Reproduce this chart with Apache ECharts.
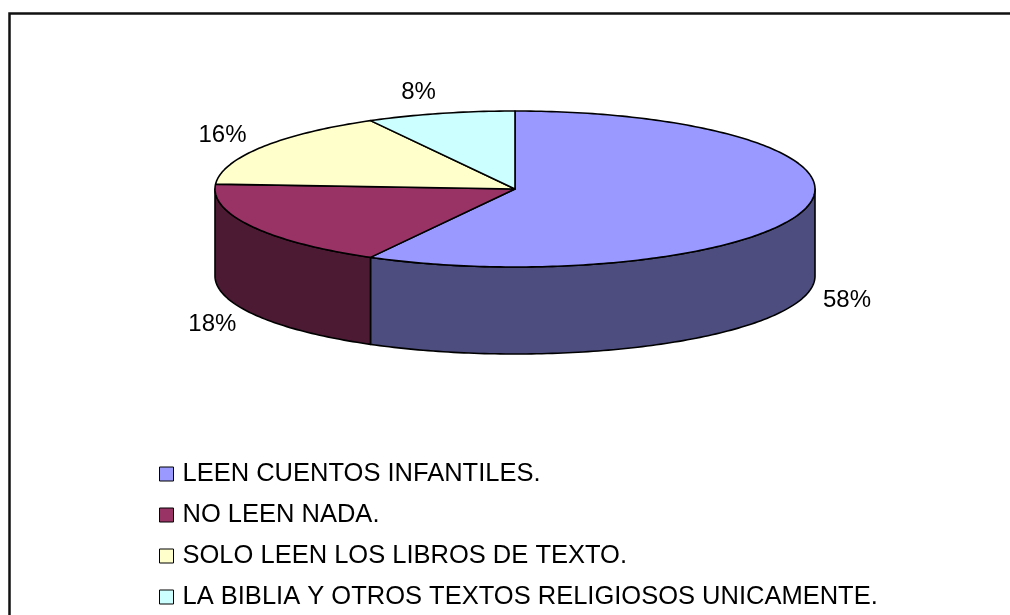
<!DOCTYPE html>
<html>
<head>
<meta charset="utf-8">
<script src="https://cdn.jsdelivr.net/npm/echarts@6/dist/echarts.min.js"></script>
<style>
  html, body { margin: 0; padding: 0; background: #fff; }
  #chart { width: 1010px; height: 615px; }
</style>
</head>
<body>
<div id="chart"></div>
<script>
// ---- data ----
const categories = [
  'LEEN CUENTOS INFANTILES.',
  'NO LEEN NADA.',
  'SOLO LEEN LOS LIBROS DE TEXTO.',
  'LA BIBLIA Y OTROS TEXTOS RELIGIOSOS UNICAMENTE.'
];
const values = [58, 18, 16, 8];
const topColors = ['#9999FF', '#993366', '#FFFFCC', '#CCFFFF'];
const sideColors = ['#4D4D80', '#4C1A33', '#80805F', '#608080'];

// ---- layout (3D pie geometry) ----
const CX = 515, CY = 189, RX = 300, RY = 78, DEPTH = 87;
const FONT = '"Liberation Sans", Arial, sans-serif';
const total = values.reduce((a, b) => a + b, 0);

function pt(t, dy) {
  return [CX + RX * Math.sin(t), CY - RY * Math.cos(t) + dy];
}
function arc(a0, a1, dy) {
  const n = Math.max(2, Math.ceil(Math.abs(a1 - a0) / (Math.PI / 180)));
  const pts = [];
  for (let k = 0; k <= n; k++) pts.push(pt(a0 + (a1 - a0) * k / n, dy));
  return pts;
}

function renderSlice(i, api) {
  const v = api.value(0);
  let before = 0;
  for (let j = 0; j < i; j++) before += values[j];
  const a0 = before / total * Math.PI * 2;
  const a1 = a0 + v / total * Math.PI * 2;
  const children = [];
  // visible side wall (front half: PI/2 .. 3PI/2)
  const s = Math.max(a0, Math.PI / 2), e = Math.min(a1, Math.PI * 1.5);
  if (s < e) {
    const pts = arc(s, e, 0).concat(arc(e, s, DEPTH));
    children.push({
      type: 'polygon', shape: { points: pts },
      style: { fill: sideColors[i], stroke: '#000', lineWidth: 1.6, lineJoin: 'round' }
    });
  }
  // top face
  const topPts = [[CX, CY]].concat(arc(a0, a1, 0));
  children.push({
    type: 'polygon', shape: { points: topPts },
    style: { fill: topColors[i], stroke: '#000', lineWidth: 1.6, lineJoin: 'round' }
  });
  // label
  const mid = (a0 + a1) / 2;
  const front = Math.cos(mid) < 0;
  const lx = CX + (RX + 18) * Math.sin(mid);
  const ly = CY - (RY + 22) * Math.cos(mid) + (front ? DEPTH : 0);
  children.push({
    type: 'text',
    style: {
      text: Math.round(v / total * 100) + '%',
      x: lx, y: ly,
      fill: '#000',
      font: '24px ' + FONT,
      align: Math.sin(mid) >= 0 ? 'left' : 'right',
      verticalAlign: 'middle'
    }
  });
  return { type: 'group', children };
}

const chart = echarts.init(document.getElementById('chart'), null, { renderer: 'canvas' });
chart.setOption({
  backgroundColor: '#ffffff',
  animation: false,
  graphic: [{
    type: 'rect', silent: true,
    shape: { x: 9.5, y: 13.5, width: 1100, height: 700 },
    style: { fill: 'none', stroke: '#111', lineWidth: 2.5 }
  }],
  legend: {
    orient: 'vertical',
    left: 159, top: 461,
    width: 820, height: 200,
    padding: 0,
    icon: 'rect',
    itemWidth: 14, itemHeight: 14,
    itemGap: 15,
    selectedMode: false,
    itemStyle: { borderColor: '#000', borderWidth: 1 },
    textStyle: { fontSize: 25.5, fontFamily: FONT, color: '#000', lineHeight: 25, padding: [0, 0, 0, 4] },
    data: categories
  },
  series: categories.map((name, i) => ({
    type: 'custom',
    name: name,
    coordinateSystem: 'none',
    silent: true,
    itemStyle: { color: topColors[i] },
    data: [values[i]],
    renderItem: (params, api) => renderSlice(i, api)
  }))
});
</script>
</body>
</html>
